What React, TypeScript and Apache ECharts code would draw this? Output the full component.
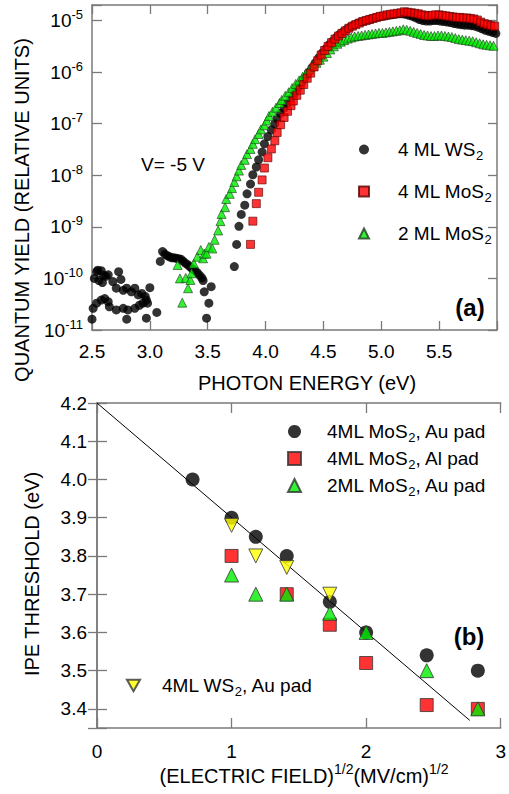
import React, { useEffect, useRef } from "react";
import * as echarts from "echarts";

const FONT = "'Liberation Sans', Arial, Helvetica, sans-serif";
const FRAME = "#7a7a7a";

// Panel (a): [photon energy (eV), log10(quantum yield, relative units)]
const ws2Yield: number[][] = [
  [2.50, -10.79], [2.51, -10.58], [2.52, -10.00], [2.54, -10.48], [2.54, -9.87], [2.55, -9.84],
  [2.56, -10.04], [2.58, -10.42], [2.58, -9.85], [2.60, -9.94], [2.59, -10.08], [2.61, -10.39],
  [2.62, -9.96], [2.64, -10.45], [2.64, -9.93], [2.65, -10.55], [2.68, -10.06], [2.71, -10.61],
  [2.71, -10.19], [2.73, -9.87], [2.75, -10.02], [2.77, -10.23], [2.77, -10.58], [2.80, -10.19],
  [2.80, -10.79], [2.81, -10.61], [2.84, -10.26], [2.87, -10.19], [2.87, -10.58], [2.90, -10.32],
  [2.91, -10.52], [2.93, -10.29], [2.94, -10.48], [2.96, -10.35], [2.97, -10.42], [2.97, -10.77],
  [2.98, -10.48], [3.00, -10.18], [3.06, -10.66],
  [3.09, -9.67], [3.11, -9.48], [3.13, -9.53], [3.15, -9.56], [3.17, -9.58], [3.19, -9.60],
  [3.21, -9.60], [3.23, -9.61], [3.25, -9.62], [3.27, -9.63], [3.29, -9.67], [3.31, -9.71],
  [3.33, -9.74], [3.35, -9.78], [3.37, -9.82], [3.39, -9.85], [3.41, -9.89], [3.43, -9.94],
  [3.45, -9.99], [3.46, -10.04], [3.47, -10.26], [3.49, -10.77], [3.51, -10.48], [3.53, -10.16],
  [3.73, -9.77], [3.75, -9.34], [3.77, -8.99], [3.79, -8.76], [3.82, -8.58], [3.84, -8.36],
  [3.87, -8.17], [3.89, -7.99], [3.92, -7.84], [3.94, -7.70], [3.97, -7.55], [3.99, -7.39],
  [4.02, -7.25], [4.05, -7.12], [4.08, -7.00], [4.10, -6.90], [4.13, -6.80], [4.16, -6.70],
  [4.19, -6.60], [4.22, -6.51], [4.25, -6.41], [4.28, -6.31], [4.31, -6.21], [4.34, -6.11],
  [4.37, -6.01], [4.40, -5.92], [4.43, -5.82], [4.46, -5.72], [4.49, -5.63], [4.52, -5.55],
  [4.55, -5.47], [4.58, -5.40], [4.61, -5.33], [4.64, -5.27], [4.67, -5.22], [4.70, -5.17],
  [4.73, -5.13], [4.76, -5.09], [4.79, -5.06], [4.82, -5.03], [4.85, -5.01], [4.88, -4.99],
  [4.91, -4.97], [4.94, -4.95], [4.97, -4.93], [5.00, -4.92], [5.03, -4.91], [5.06, -4.90],
  [5.09, -4.89], [5.12, -4.88], [5.15, -4.87], [5.18, -4.87], [5.21, -4.88], [5.24, -4.90],
  [5.27, -4.92], [5.30, -4.95], [5.33, -4.98], [5.36, -5.00], [5.39, -5.01], [5.42, -5.01],
  [5.45, -5.00], [5.48, -5.00], [5.51, -5.01], [5.54, -5.02], [5.57, -5.03], [5.60, -5.04],
  [5.63, -5.06], [5.66, -5.07], [5.69, -5.08], [5.72, -5.09], [5.75, -5.09], [5.78, -5.10],
  [5.81, -5.11], [5.84, -5.13], [5.87, -5.16], [5.90, -5.19], [5.93, -5.21], [5.96, -5.23],
  [5.99, -5.25],
];

const mos2FourYield: number[][] = [
  [3.87, -9.34], [3.89, -8.89], [3.92, -8.55], [3.94, -8.33], [3.97, -8.09], [3.99, -7.86],
  [4.02, -7.66], [4.05, -7.49], [4.08, -7.33], [4.10, -7.17], [4.13, -7.02], [4.16, -6.88],
  [4.19, -6.76], [4.22, -6.65], [4.24, -6.56], [4.27, -6.45], [4.30, -6.35], [4.33, -6.24],
  [4.36, -6.12], [4.39, -6.02], [4.42, -5.90], [4.45, -5.78], [4.48, -5.67], [4.51, -5.58],
  [4.54, -5.50], [4.57, -5.43], [4.60, -5.36], [4.63, -5.30], [4.66, -5.25], [4.69, -5.20],
  [4.72, -5.15], [4.75, -5.11], [4.78, -5.08], [4.81, -5.05], [4.84, -5.02], [4.87, -5.00],
  [4.90, -4.98], [4.93, -4.96], [4.96, -4.94], [4.99, -4.92], [5.02, -4.91], [5.05, -4.89],
  [5.08, -4.88], [5.11, -4.87], [5.14, -4.86], [5.17, -4.85], [5.20, -4.83], [5.23, -4.84],
  [5.26, -4.85], [5.29, -4.86], [5.32, -4.87], [5.35, -4.89], [5.38, -4.90], [5.41, -4.91],
  [5.44, -4.90], [5.47, -4.89], [5.50, -4.89], [5.53, -4.90], [5.56, -4.91], [5.59, -4.92],
  [5.62, -4.93], [5.65, -4.94], [5.68, -4.94], [5.71, -4.95], [5.74, -4.95], [5.77, -4.96],
  [5.80, -4.97], [5.83, -4.99], [5.86, -5.03], [5.89, -5.06], [5.92, -5.08], [5.95, -5.10],
  [5.98, -5.11],
];

const mos2TwoYield: number[][] = [
  [3.24, -9.74], [3.26, -10.00], [3.28, -10.47], [3.31, -9.99], [3.33, -10.19], [3.35, -10.03],
  [3.36, -9.90], [3.38, -9.71], [3.41, -9.58], [3.44, -9.45], [3.46, -9.61], [3.47, -9.52],
  [3.49, -9.52], [3.51, -9.39], [3.54, -9.42], [3.56, -9.25], [3.59, -9.07], [3.61, -8.89],
  [3.62, -8.75], [3.65, -8.62], [3.66, -8.46], [3.69, -8.36], [3.71, -8.25], [3.73, -8.13],
  [3.75, -8.02], [3.77, -7.91], [3.79, -7.80], [3.82, -7.70], [3.84, -7.59], [3.87, -7.49],
  [3.89, -7.39], [3.91, -7.30], [3.94, -7.20], [3.96, -7.11], [3.99, -7.03], [4.01, -6.94],
  [4.03, -6.85], [4.06, -6.77], [4.09, -6.69], [4.12, -6.60], [4.14, -6.54], [4.17, -6.46],
  [4.20, -6.39], [4.23, -6.31], [4.26, -6.23], [4.29, -6.16], [4.32, -6.09], [4.35, -6.02],
  [4.38, -5.95], [4.41, -5.88], [4.44, -5.82], [4.47, -5.76], [4.50, -5.70], [4.53, -5.63],
  [4.56, -5.56], [4.59, -5.50], [4.62, -5.45], [4.65, -5.41], [4.68, -5.38], [4.71, -5.35],
  [4.74, -5.33], [4.77, -5.31], [4.80, -5.30], [4.83, -5.29], [4.86, -5.28], [4.89, -5.27],
  [4.92, -5.26], [4.95, -5.25], [4.98, -5.24], [5.01, -5.24], [5.04, -5.23], [5.07, -5.22],
  [5.10, -5.21], [5.13, -5.20], [5.16, -5.19], [5.19, -5.17], [5.22, -5.18], [5.25, -5.20],
  [5.28, -5.22], [5.31, -5.24], [5.34, -5.26], [5.37, -5.28], [5.40, -5.29], [5.43, -5.30],
  [5.46, -5.30], [5.49, -5.29], [5.52, -5.29], [5.55, -5.30], [5.58, -5.31], [5.61, -5.32],
  [5.64, -5.34], [5.67, -5.36], [5.70, -5.37], [5.73, -5.38], [5.76, -5.39], [5.79, -5.40],
  [5.82, -5.42], [5.85, -5.44], [5.88, -5.46], [5.91, -5.47], [5.94, -5.48], [5.97, -5.49],
];

// Panel (b): [sqrt(electric field) (MV/cm)^1/2, IPE threshold (eV)]
const thrMoS2FourAu: number[][] = [
  [0.71, 4.0], [1.0, 3.9], [1.18, 3.85], [1.41, 3.8], [1.73, 3.68], [2.0, 3.6], [2.45, 3.54], [2.83, 3.5],
];
const thrMoS2FourAl: number[][] = [
  [1.0, 3.8], [1.41, 3.7], [1.73, 3.62], [2.0, 3.52], [2.45, 3.41], [2.83, 3.4],
];
const thrMoS2TwoAu: number[][] = [
  [1.0, 3.75], [1.18, 3.7], [1.41, 3.7], [1.73, 3.65], [2.0, 3.6], [2.45, 3.5], [2.83, 3.4],
];
const thrWS2FourAu: number[][] = [
  [1.0, 3.88], [1.18, 3.8], [1.41, 3.77], [1.73, 3.7],
];
const fitLine: number[][] = [[0, 4.2], [2.77, 3.37]];

const toYield = (arr: number[][]) => arr.map(([e, l]) => [e, Math.pow(10, l)]);

const subFormatter = (name: string) => name.replace("S2", "S{s|2}");

const DOWN_TRIANGLE = "path://M0,0L10,0L5,8.66Z";

function App() {
  const ref = useRef<HTMLDivElement | null>(null);

  useEffect(() => {
    if (!ref.current) return;
    const chart = echarts.init(ref.current, null, { renderer: "svg" });

    const tickStyle = { inside: true, length: 9, lineStyle: { color: FRAME, width: 1.3 } };
    const lineStyle = { lineStyle: { color: FRAME, width: 1.5 } };
    const labelBase = { color: "#000", fontSize: 19, fontFamily: FONT };
    const legendText = (pad: number) => ({
      color: "#000",
      fontSize: 19,
      fontFamily: FONT,
      padding: [0, 0, 0, pad],
      rich: { s: { fontSize: 13, fontFamily: FONT, color: "#000", padding: [12, 0, 0, 0] } },
    });

    const isPow10 = (v: number) => Math.abs(Math.log10(v) - Math.round(Math.log10(v))) < 1e-6;

    const option: any = {
      animation: false,
      backgroundColor: "#fff",
      grid: [
        { left: 92, right: 12, top: 5, height: 325 },
        { left: 97, right: 6, top: 403, height: 325 },
      ],
      xAxis: [
        {
          gridIndex: 0, type: "value", min: 2.5, max: 6.0, interval: 0.5, position: "bottom",
          axisLine: lineStyle, axisTick: tickStyle, splitLine: { show: false },
          axisLabel: { ...labelBase, margin: 12, formatter: (v: number) => (Math.abs(v - 6) < 1e-6 ? "" : v.toFixed(1)) },
        },
        {
          gridIndex: 0, type: "value", min: 2.5, max: 6.0, interval: 0.5, position: "top",
          axisLine: lineStyle, axisTick: tickStyle, splitLine: { show: false }, axisLabel: { show: false },
        },
        {
          gridIndex: 1, type: "value", min: 0, max: 3, interval: 1, position: "bottom",
          axisLine: lineStyle, axisTick: { ...tickStyle, length: 10 }, splitLine: { show: false },
          axisLabel: { ...labelBase, margin: 14, formatter: (v: number) => String(Math.round(v)) },
        },
        {
          gridIndex: 1, type: "value", min: 0, max: 3, interval: 1, position: "top",
          axisLine: lineStyle, axisTick: { ...tickStyle, length: 10 }, splitLine: { show: false }, axisLabel: { show: false },
        },
      ],
      yAxis: [
        {
          gridIndex: 0, type: "log", logBase: 10, min: 1e-11, max: 2e-5, position: "left",
          axisLine: lineStyle, axisTick: { ...tickStyle, length: 10 }, splitLine: { show: false },
          axisLabel: {
            ...labelBase, margin: 9,
            formatter: (v: number) => (isPow10(v) ? `10{p|${Math.round(Math.log10(v))}}` : ""),
            rich: { p: { fontSize: 13, fontFamily: FONT, color: "#000", padding: [0, 0, 12, 0] } },
          },
        },
        {
          gridIndex: 0, type: "log", logBase: 10, min: 1e-11, max: 2e-5, position: "right",
          axisLine: lineStyle, axisTick: tickStyle, splitLine: { show: false }, axisLabel: { show: false },
        },
        {
          gridIndex: 1, type: "value", min: 3.35, max: 4.2, splitNumber: 8, minInterval: 0.1, maxInterval: 0.1,
          position: "left",
          axisLine: lineStyle, axisTick: { ...tickStyle, length: 10 }, splitLine: { show: false },
          axisLabel: {
            ...labelBase, margin: 10,
            formatter: (v: number) => (Math.abs(v * 10 - Math.round(v * 10)) < 1e-6 ? v.toFixed(1) : ""),
          },
        },
        {
          gridIndex: 1, type: "value", min: 3.35, max: 4.2, splitNumber: 8, minInterval: 0.1, maxInterval: 0.1,
          position: "right",
          axisLine: lineStyle, axisTick: tickStyle, splitLine: { show: false }, axisLabel: { show: false },
        },
      ],
      legend: [
        {
          data: ["4 ML WS2", "4 ML MoS2", "2 ML MoS2"], orient: "vertical", left: 358, top: 140,
          itemWidth: 10, itemHeight: 10, itemGap: 20, padding: 0, selectedMode: false,
          formatter: subFormatter, textStyle: legendText(24),
        },
        {
          data: ["4ML MoS2, Au pad", "4ML MoS2, Al pad", "2ML MoS2, Au pad"], orient: "vertical", left: 287, top: 422,
          itemWidth: 13, itemHeight: 13, itemGap: 5, padding: 0, selectedMode: false,
          formatter: subFormatter, textStyle: legendText(21),
        },
        {
          data: [{ name: "4ML WS2, Au pad", icon: DOWN_TRIANGLE }], orient: "vertical", left: 126, top: 676,
          itemWidth: 13, itemHeight: 12, padding: 0, selectedMode: false,
          formatter: subFormatter, textStyle: legendText(17),
        },
      ],
      series: [
        {
          type: "scatter", name: "4 ML WS2", xAxisIndex: 0, yAxisIndex: 0, data: toYield(ws2Yield),
          symbol: "circle", symbolSize: 9, itemStyle: { color: "#000" }, z: 2,
        },
        {
          type: "scatter", name: "4 ML MoS2", xAxisIndex: 0, yAxisIndex: 0, data: toYield(mos2FourYield),
          symbol: "rect", symbolSize: 8, itemStyle: { color: "#ff0000", borderColor: "#5a0000", borderWidth: 0.8 }, z: 4,
        },
        {
          type: "scatter", name: "2 ML MoS2", xAxisIndex: 0, yAxisIndex: 0, data: toYield(mos2TwoYield),
          symbol: "triangle", symbolSize: 9, itemStyle: { color: "#00ee00", borderColor: "#1f3f1f", borderWidth: 0.8 }, z: 3,
        },
        {
          type: "line", name: "fit", xAxisIndex: 2, yAxisIndex: 2, data: fitLine, symbol: "none",
          lineStyle: { color: "#000", width: 1 }, z: 1,
        },
        {
          type: "scatter", name: "4ML MoS2, Au pad", xAxisIndex: 2, yAxisIndex: 2, data: thrMoS2FourAu,
          symbol: "circle", symbolSize: 14, itemStyle: { color: "#000" }, z: 2,
        },
        {
          type: "scatter", name: "4ML MoS2, Al pad", xAxisIndex: 2, yAxisIndex: 2, data: thrMoS2FourAl,
          symbol: "rect", symbolSize: 13, itemStyle: { color: "#ff0000", borderColor: "#333", borderWidth: 1 }, z: 3,
        },
        {
          type: "scatter", name: "2ML MoS2, Au pad", xAxisIndex: 2, yAxisIndex: 2, data: thrMoS2TwoAu,
          symbol: "triangle", symbolSize: 14, itemStyle: { color: "#00ee00", borderColor: "#333", borderWidth: 1 }, z: 4,
        },
        {
          type: "scatter", name: "4ML WS2, Au pad", xAxisIndex: 2, yAxisIndex: 2, data: thrWS2FourAu,
          symbol: "triangle", symbolRotate: 180, symbolSize: 14,
          itemStyle: { color: "#ffff00", borderColor: "#333", borderWidth: 1 }, z: 5,
        },
      ],
      graphic: [
        {
          type: "text", x: 22, y: 210, rotation: Math.PI / 2,
          style: { text: "QUANTUM YIELD (RELATIVE UNITS)", fill: "#000", font: `20px ${FONT}`,
            textAlign: "center", textVerticalAlign: "middle", align: "center", verticalAlign: "middle" },
        },
        {
          type: "text", x: 307, y: 383,
          style: { text: "PHOTON ENERGY (eV)", fill: "#000", font: `20px ${FONT}`,
            textAlign: "center", textVerticalAlign: "middle", align: "center", verticalAlign: "middle" },
        },
        {
          type: "text", x: 32, y: 574, rotation: Math.PI / 2,
          style: { text: "IPE THRESHOLD (eV)", fill: "#000", font: `20px ${FONT}`,
            textAlign: "center", textVerticalAlign: "middle", align: "center", verticalAlign: "middle" },
        },
        {
          type: "text", x: 304, y: 776,
          style: {
            text: "(ELECTRIC FIELD){p|1/2}(MV/cm){p|1/2}", fill: "#000", font: `20px ${FONT}`,
            textAlign: "center", textVerticalAlign: "middle", align: "center", verticalAlign: "middle",
            rich: { p: { fontSize: 14, fontFamily: FONT, fill: "#000", padding: [0, 0, 14, 0] } },
          },
        },
        {
          type: "text", x: 173, y: 164,
          style: { text: "V= -5 V", fill: "#000", font: `19px ${FONT}`,
            textAlign: "center", textVerticalAlign: "middle", align: "center", verticalAlign: "middle" },
        },
        {
          type: "text", x: 470, y: 307,
          style: { text: "(a)", fill: "#000", font: `bold 24px ${FONT}`,
            textAlign: "center", textVerticalAlign: "middle", align: "center", verticalAlign: "middle" },
        },
        {
          type: "text", x: 469, y: 636,
          style: { text: "(b)", fill: "#000", font: `bold 24px ${FONT}`,
            textAlign: "center", textVerticalAlign: "middle", align: "center", verticalAlign: "middle" },
        },
      ],
    };

    chart.setOption(option);
    return () => chart.dispose();
  }, []);

  return (
    <div
      ref={ref}
      style={{ position: "fixed", left: 0, top: 0, width: 509, height: 794, background: "#fff" }}
    />
  );
}

export default App;
